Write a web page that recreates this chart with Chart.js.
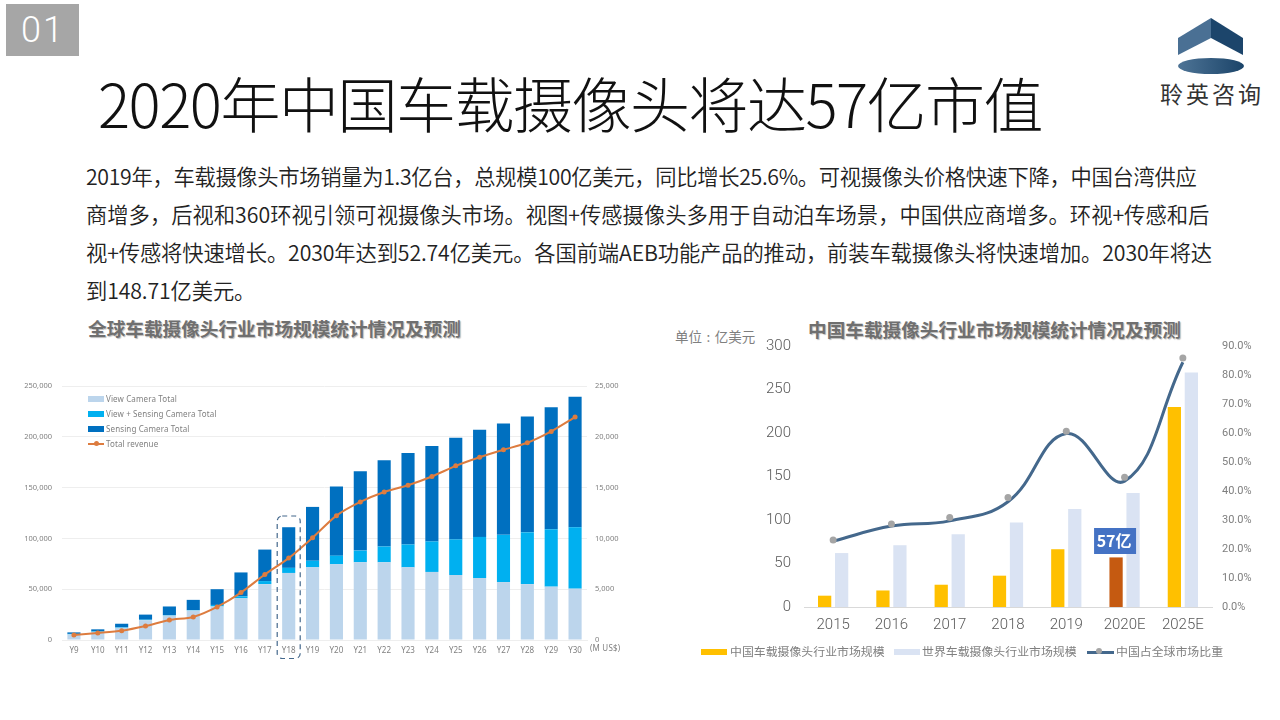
<!DOCTYPE html>
<html lang="zh-CN"><head><meta charset="utf-8">
<script src="https://cdn.jsdelivr.net/npm/chart.js@4"></script>
<style>
html,body{margin:0;padding:0;background:#fff}
body{width:1280px;height:720px;position:relative;overflow:hidden;font-family:"Noto Sans CJK SC",sans-serif}
.t{position:absolute;white-space:nowrap;line-height:1}
canvas{position:absolute}
.sw{position:absolute}
</style></head><body>
<div class="sw" style="left:6px;top:4px;width:73px;height:52px;background:#a6a6a6"></div>
<div class="t" style="left:21px;top:12px;font:300 36px Roboto;color:#fff;letter-spacing:2px;line-height:36px">01</div>
<div class="t" id="title" style="left:98px;top:62px;font-size:60px;font-weight:300;color:#111;letter-spacing:-1.5px;line-height:80px"></div>
<div id="body"></div>
<div class="t" id="sub1" style="left:88px;top:318px;font-size:18.65px;font-weight:700;color:#6f6f6f;line-height:20px;text-shadow:1px 1px 1px #bbb"></div>
<div class="t" id="sub2" style="left:808px;top:319px;font-size:18.65px;font-weight:700;color:#6f6f6f;line-height:20px;text-shadow:1px 1px 1px #bbb"></div>
<div class="t" id="unit" style="left:675px;top:329px;font-size:13.5px;color:#7f7f7f;line-height:14px;word-spacing:1.5px"></div>
<svg style="position:absolute;left:1170px;top:10px" width="84" height="70" viewBox="1170 10 84 70">
<defs><linearGradient id="g" x1="0" x2="1"><stop offset="0" stop-color="#4e7496"/><stop offset="1" stop-color="#1b4469"/></linearGradient></defs>
<polygon points="1178,38 1211,18 1211,38 1178,55" fill="#4a7094"/>
<polygon points="1211,18 1243,38 1243,55 1211,38" fill="#1c456b"/>
<ellipse cx="1211" cy="66" rx="33" ry="8" fill="url(#g)"/></svg>
<div class="t" id="logo" style="left:1160px;top:80px;font-size:23px;color:#333;letter-spacing:3px;line-height:26px"></div>
<canvas id="left" width="640" height="300" style="left:0;top:370px;filter:blur(.4px)"></canvas>
<canvas id="right" width="510" height="346" style="left:760px;top:324px"></canvas>
<div id="leg1" style="filter:blur(.3px)"></div>
<div id="leg2"></div>
<script>
const pageTitle="2020年中国车载摄像头将达57亿市值";
const bodyLines=[
"2019年，车载摄像头市场销量为1.3亿台，总规模100亿美元，同比增长25.6%。可视摄像头价格快速下降，中国台湾供应",
"商增多，后视和360环视引领可视摄像头市场。视图+传感摄像头多用于自动泊车场景，中国供应商增多。环视+传感和后",
"视+传感将快速增长。2030年达到52.74亿美元。各国前端AEB功能产品的推动，前装车载摄像头将快速增加。2030年将达",
"到148.71亿美元。"];
const leftTitle="全球车载摄像头行业市场规模统计情况及预测";
const rightTitle="中国车载摄像头行业市场规模统计情况及预测";
const unitLabel="单位 : 亿美元";
const logoText="聆英咨询";

const years=["Y9","Y10","Y11","Y12","Y13","Y14","Y15","Y16","Y17","Y18","Y19","Y20","Y21","Y22","Y23","Y24","Y25","Y26","Y27","Y28","Y29","Y30"];
const viewCamera=[5500,8000,12000,19500,24000,29000,33000,41000,55000,66000,71500,74500,76500,76500,71500,67000,64000,61000,57000,55000,52500,50500];
const viewSensing=[500,500,500,500,500,500,1500,2000,3000,5000,6500,8500,11500,15500,22500,30000,35000,40500,46500,51000,56500,60500];
const sensingCamera=[1500,2000,3500,5000,8500,10000,15500,23500,31000,40000,53000,68000,78000,85000,90000,94000,100000,105500,109500,114000,120000,128500];
const totalRevenue=[490,690,920,1380,1970,2270,3260,4670,6450,8060,10070,12240,13590,14570,15230,16090,17140,17990,18720,19410,20530,21940];
const leftLegend=["View Camera Total","View + Sensing Camera Total","Sensing Camera Total","Total revenue"];
const highlightYear="Y18";
const revenueUnit="(M US$)";

const marketYears=["2015","2016","2017","2018","2019","2020E","2025E"];
const chinaMarket=[13,19,25.6,36,66.4,57,230];
const worldMarket=[62,71,83.6,97,112.6,131,269.5];
const shareCurve=[22.7,27.9,29.7,36.3,59.8,43.4,84.4];
const shareMarkers=[23.1,28.6,30.9,37.8,60.6,44.7,85.9];
const rightLegend=["中国车载摄像头行业市场规模","世界车载摄像头行业市场规模","中国占全球市场比重"];
const calloutYear="2020E";
const calloutText="57亿";

document.getElementById('title').textContent=pageTitle;
document.getElementById('sub1').textContent=leftTitle;
document.getElementById('sub2').textContent=rightTitle;
document.getElementById('unit').textContent=unitLabel;
document.getElementById('logo').textContent=logoText;
const lineTops=[165,203,241,279];
const lineTrack=[-0.32,0,-0.13,-0.13];
document.getElementById('body').innerHTML=bodyLines.map((s,i)=>`<div class="t" style="left:86px;top:${lineTops[i]}px;font-size:21.3px;font-weight:350;letter-spacing:${lineTrack[i]}px;color:#222;line-height:22px">${s}</div>`).join('');

function addSw(host,x,y,w,h,c){const d=document.createElement('div');d.className='sw';d.style.cssText=`left:${x}px;top:${y}px;width:${w}px;height:${h}px;background:${c}`;host.appendChild(d);return d}
function addTx(host,x,y,s,css){const d=document.createElement('div');d.className='t';d.textContent=s;d.style.cssText=`left:${x}px;top:${y}px;`+css;host.appendChild(d)}

const cView='#bcd5ec',cBoth='#00b0f0',cSens='#0070c0',cRev='#dd7c3f';
const leg1=document.getElementById('leg1');
[cView,cBoth,cSens].forEach((c,i)=>addSw(leg1,88,396+i*15,16,6,c));
addSw(leg1,88,443,16,2,cRev);
const dot=addSw(leg1,93.5,441,5,5,cRev);dot.style.borderRadius='50%';
leftLegend.forEach((s,i)=>addTx(leg1,106,393+i*15,s,'font:8px "Noto Sans";letter-spacing:.12px;color:#808080;line-height:12px'));
addTx(leg1,590,642,revenueUnit,'font:8px "Noto Sans";color:#808080;letter-spacing:.2px;line-height:12px');

const leg2=document.getElementById('leg2');
addSw(leg2,701,649,26,6,'#ffc000');addSw(leg2,894,649,26,6,'#dae3f3');
addSw(leg2,1087,650.5,27,3,'#44688c');
const d2=addSw(leg2,1096,648,6,6,'#a5a5a5');d2.style.borderRadius='50%';
[730,922,1116].forEach((x,i)=>addTx(leg2,x,644,rightLegend[i],'font-size:11.9px;color:#7f7f7f;line-height:14px'));

const fix=(w)=>s=>{s.width=w};
const fixH=(h)=>s=>{s.height=h};
const Y18box={id:'y18',afterDatasetsDraw(c){const g=c.ctx,x=c.scales.x.getPixelForValue(highlightYear);
 g.save();g.strokeStyle='#44688c';g.lineWidth=1.2;g.setLineDash([5,4]);g.beginPath();g.roundRect(x-11.5,146,23,142.5,5);g.stroke();g.restore();}};
new Chart(document.getElementById('left'),{
 data:{labels:years,datasets:[
  {type:'line',data:totalRevenue,yAxisID:'y1',order:0,borderColor:cRev,backgroundColor:cRev,borderWidth:2,pointRadius:2.5,pointBackgroundColor:cRev,pointBorderWidth:0,tension:.25},
  {type:'bar',data:viewCamera,backgroundColor:cView,order:1,stack:'a'},
  {type:'bar',data:viewSensing,backgroundColor:cBoth,order:1,stack:'a'},
  {type:'bar',data:sensingCamera,backgroundColor:cSens,order:1,stack:'a'}]},
 options:{responsive:false,animation:false,devicePixelRatio:1,layout:{padding:{top:16,left:0,right:0,bottom:0}},
  datasets:{bar:{barPercentage:.55,categoryPercentage:1}},
  plugins:{legend:{display:false},tooltip:{enabled:false}},
  scales:{
   x:{stacked:true,afterFit:fixH(30),grid:{display:false,drawTicks:false},border:{color:'#eeeeee'},ticks:{padding:6,autoSkip:false,maxRotation:0,font:{family:'"Noto Sans"',size:8},color:'#808080'}},
   y:{stacked:true,min:0,max:250000,afterFit:fix(62),grid:{color:'#eeeeee',drawTicks:false},border:{display:false},ticks:{stepSize:50000,padding:10,font:{family:'"Noto Sans"',size:7.5},color:'#808080',callback:v=>v.toLocaleString('en-US')}},
   y1:{position:'right',min:0,max:25000,afterFit:fix(53),grid:{display:false,drawTicks:false},border:{display:false},ticks:{stepSize:5000,padding:8,font:{family:'"Noto Sans"',size:7.5},color:'#808080',callback:v=>v.toLocaleString('en-US')}}
  }},
 plugins:[Y18box]});

const callout={id:'callout',afterDatasetsDraw(c){const g=c.ctx,x=c.scales.x.getPixelForValue(calloutYear),w=42,h=26,top=204;
 g.save();g.fillStyle='#4472c4';g.fillRect(x-w/2-10+.5,top,w,h);
 g.fillStyle='#fff';g.font='700 16px "Noto Sans CJK SC"';g.textAlign='center';g.textBaseline='middle';g.fillText(calloutText,x-10.5,top+h/2);g.restore();}};
new Chart(document.getElementById('right'),{
 data:{labels:marketYears,datasets:[
  {type:'line',data:shareMarkers,yAxisID:'y1',order:0,showLine:false,pointRadius:3.5,pointBackgroundColor:'#a5a5a5',pointBorderWidth:0},
  {type:'line',data:shareCurve,yAxisID:'y1',order:0.5,borderColor:'#44688c',borderWidth:3,pointRadius:0,tension:.42,cubicInterpolationMode:'default'},
  {type:'bar',data:chinaMarket,order:1,backgroundColor:marketYears.map(y=>y===calloutYear?'#c55a11':'#ffc000')},
  {type:'bar',data:worldMarket,order:1,backgroundColor:'#dae3f3'}]},
 options:{responsive:false,animation:false,devicePixelRatio:1,layout:{padding:{top:9,left:0,right:0,bottom:0}},
  datasets:{bar:{barPercentage:.78,categoryPercentage:.583}},
  plugins:{legend:{display:false},tooltip:{enabled:false}},
  scales:{
   x:{afterFit:fixH(63),grid:{display:false,drawTicks:false},border:{color:'#d9d9d9',width:1},ticks:{padding:9,autoSkip:false,maxRotation:0,font:{family:'Roboto',size:15,weight:'300'},color:'#595959'}},
   y:{min:0,max:300,afterFit:fix(44),grid:{display:false,drawTicks:false},border:{display:false},ticks:{stepSize:50,padding:13,font:{family:'Roboto',size:15,weight:'300'},color:'#595959'}},
   y1:{position:'right',min:0,max:90,afterFit:fix(58),grid:{display:false,drawTicks:false},border:{display:false},ticks:{stepSize:10,padding:10,font:{family:'Roboto',size:11},color:'#7f7f7f',callback:v=>v.toFixed(1)+'%'}}
  }},
 plugins:[callout]});
</script></body></html>
